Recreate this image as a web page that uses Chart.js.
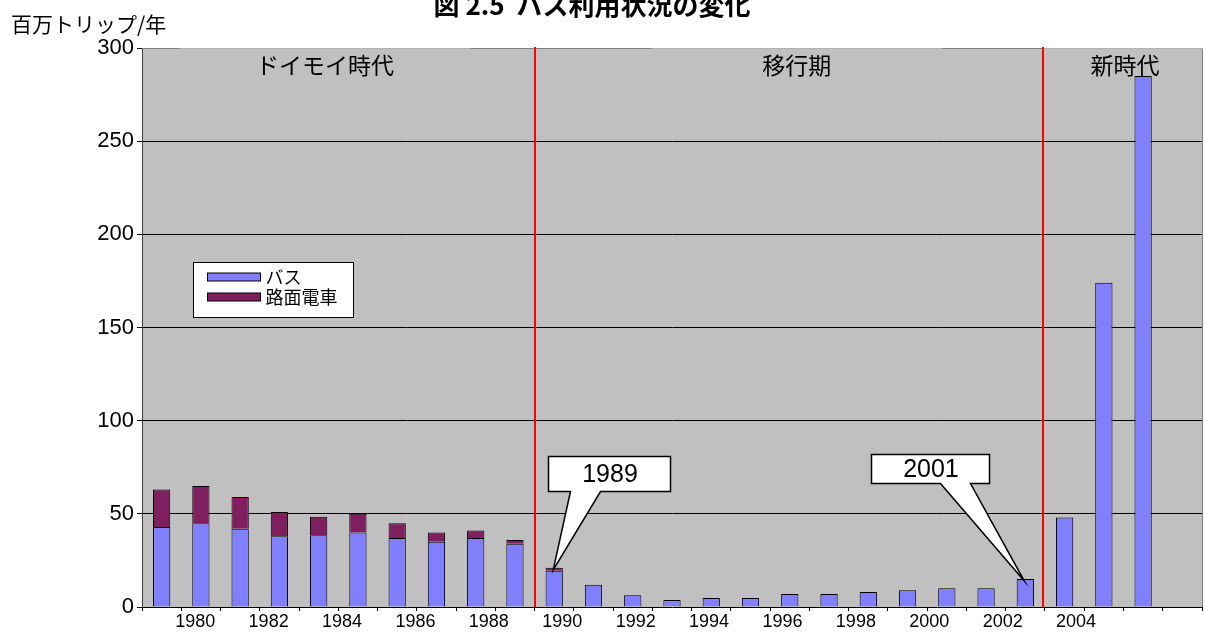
<!DOCTYPE html>
<html lang="ja">
<head>
<meta charset="utf-8">
<title>図 2.5 バス利用状況の変化</title>
<script src="https://cdn.jsdelivr.net/npm/chart.js@4.4.1/dist/chart.umd.min.js"></script>
<style>
  html, body { margin: 0; padding: 0; background: #ffffff; }
  #wrap { width: 1205px; height: 640px; position: relative; }
</style>
</head>
<body>
<div id="wrap"><canvas id="chart"></canvas></div>
<script>
// 年（カテゴリー）
const years = ['1979','1980','1981','1982','1983','1984','1985','1986','1987','1988',
               '1989','1990','1991','1992','1993','1994','1995','1996','1997','1998',
               '1999','2000','2001','2002','2003','2004','2005'];

// バス利用（百万トリップ/年）
const busTrips = [43, 45, 42, 38, 38.5, 40, 37, 35, 37, 34,
                  19.5, 12, 6.3, 3.8, 4.8, 4.8, 7, 7, 8, 9,
                  10, 10, 15, 48, 174, 285, null];

// 路面電車利用（百万トリップ/年）
const tramTrips = [20, 20, 17, 13, 10, 10, 8, 5, 4, 2,
                   1.5, null, null, null, null, null, null, null, null, null,
                   null, null, null, null, null, null, null];

// 系列名
const seriesNames = ['バス', '路面電車'];

// 軸目盛
const yTickValues = [0, 50, 100, 150, 200, 250, 300];
const xTickLabels = ['1980','1982','1984','1986','1988','1990','1992',
                     '1994','1996','1998','2000','2002','2004'];

// 時代区分
const eraNames = ['ドイモイ時代', '移行期', '新時代'];

// 吹き出しで示す年
const calloutYears = ['1989', '2001'];

// 見た目の設定
const STYLE = {
  busColor: '#8080ff',
  tramColor: '#7f1f5f',
  plotBg: '#c0c0c0',
  frame: '#808080',
  frameLight: '#b2b2b2',
  eraLine: '#ff0000',
  eraBreakAt: [9.5, 22.45],          // 区切り線の位置（カテゴリー番号）
  eraLabelAt: [4.16, 16.18, 24.54],  // 時代名の中心（カテゴリー番号）
  eraBoxWidth: [291, 291, 166],
  labelAxisMin: 1978.55,
  labelAxisMax: 2007.43,
  callouts: [
    { boxX: 11.395, boxY: 71.6, w: 122, h: 35, baseL: 22, baseR: 52 },
    { boxX: 19.57,  boxY: 74.3, w: 118, h: 29, baseL: 69, baseR: 99 }
  ],
  legend: { x: 193.5, y: 262.5, w: 160, h: 55 },
  cjk: "'Noto Sans CJK JP', 'Noto Sans', sans-serif",
  latin: "'Liberation Sans', Arial, sans-serif"
};

// 背景・枠・時代区分・吹き出し・凡例・タイトル
const decorPlugin = {
  id: 'decor',
  beforeDraw(chart) {
    const { ctx, chartArea: a } = chart;
    ctx.save();
    ctx.fillStyle = STYLE.plotBg;
    ctx.fillRect(a.left, a.top, a.right - a.left, a.bottom - a.top);
    ctx.restore();
  },
  beforeDatasetsDraw(chart) {
    const { ctx, chartArea: a, scales } = chart;
    ctx.save();
    ctx.lineWidth = 1;
    ctx.strokeStyle = STYLE.frame;
    ctx.beginPath();
    ctx.moveTo(a.left, a.top + 0.5);
    ctx.lineTo(a.right + 0.5, a.top + 0.5);
    ctx.lineTo(a.right + 0.5, a.bottom);
    ctx.stroke();
    // 時代名の枠が上辺に重なる部分
    ctx.strokeStyle = STYLE.frameLight;
    eraNames.forEach((n, i) => {
      const cx = scales.x.getPixelForValue(STYLE.eraLabelAt[i]);
      const half = STYLE.eraBoxWidth[i] / 2;
      const x0 = Math.max(a.left + 1, cx - half);
      const x1 = Math.min(a.right + 1, cx + half);
      ctx.beginPath();
      ctx.moveTo(x0, a.top + 0.5);
      ctx.lineTo(x1, a.top + 0.5);
      ctx.stroke();
    });
    ctx.restore();
  },
  afterDatasetsDraw(chart) {
    const { ctx, chartArea: a, scales } = chart;
    const xs = scales.x, ys = scales.y;
    ctx.save();

    // 時代の区切り線
    ctx.strokeStyle = STYLE.eraLine;
    ctx.lineWidth = 2;
    STYLE.eraBreakAt.forEach(v => {
      const px = Math.round(xs.getPixelForValue(v));
      ctx.beginPath();
      ctx.moveTo(px, a.top - 1);
      ctx.lineTo(px, a.bottom);
      ctx.stroke();
    });

    // 時代名
    ctx.fillStyle = '#000';
    ctx.font = '23px ' + STYLE.cjk;
    ctx.textAlign = 'center';
    ctx.textBaseline = 'middle';
    eraNames.forEach((n, i) => {
      ctx.fillText(n, xs.getPixelForValue(STYLE.eraLabelAt[i]), a.top + 17);
    });

    // 吹き出し
    calloutYears.forEach((yr, i) => {
      const c = STYLE.callouts[i];
      const idx = years.indexOf(yr);
      const total = (busTrips[idx] || 0) + (tramTrips[idx] || 0);
      const tx = xs.getPixelForValue(idx) - 1;
      const ty = ys.getPixelForValue(total) + 2;
      const cx = xs.getPixelForValue(c.boxX);
      const cy = ys.getPixelForValue(c.boxY);
      const x = Math.round(cx - c.w / 2) + 0.5;
      const y = Math.round(cy - c.h / 2) + 0.5;
      ctx.beginPath();
      ctx.moveTo(x, y);
      ctx.lineTo(x + c.w, y);
      ctx.lineTo(x + c.w, y + c.h);
      ctx.lineTo(x + c.baseR, y + c.h);
      ctx.lineTo(tx, ty);
      ctx.lineTo(x + c.baseL, y + c.h);
      ctx.lineTo(x, y + c.h);
      ctx.closePath();
      ctx.fillStyle = '#ffffff';
      ctx.fill();
      ctx.strokeStyle = '#000';
      ctx.lineWidth = 1.5;
      ctx.stroke();
      ctx.fillStyle = '#000';
      ctx.font = '25px ' + STYLE.latin;
      ctx.textAlign = 'center';
      ctx.textBaseline = 'middle';
      ctx.fillText(yr, cx + 1, cy + 2);
    });

    // 凡例
    const L = STYLE.legend;
    ctx.fillStyle = '#ffffff';
    ctx.fillRect(L.x, L.y, L.w, L.h);
    ctx.strokeStyle = '#000';
    ctx.lineWidth = 1;
    ctx.strokeRect(L.x, L.y, L.w, L.h);
    ctx.font = '18px ' + STYLE.cjk;
    ctx.textAlign = 'left';
    ctx.textBaseline = 'middle';
    chart.data.datasets.forEach((ds, i) => {
      const sy = L.y + 10.5 + i * 20;
      ctx.fillStyle = ds.backgroundColor;
      ctx.fillRect(L.x + 14, sy, 53, 8);
      ctx.strokeStyle = '#000';
      ctx.strokeRect(L.x + 14, sy, 53, 8);
      ctx.fillStyle = '#000';
      ctx.fillText(ds.label, L.x + 72, sy + 4);
    });

    // タイトルと縦軸の単位
    ctx.fillStyle = '#000';
    ctx.font = 'bold 26px ' + STYLE.cjk;
    ctx.textAlign = 'center';
    ctx.textBaseline = 'alphabetic';
    ctx.fillText('図 2.5  バス利用状況の変化', 592, 15);
    ctx.font = '21px ' + STYLE.cjk;
    ctx.textAlign = 'left';
    ctx.textBaseline = 'middle';
    ctx.fillText('百万トリップ/年', 11, 24);

    ctx.restore();
  }
};

new Chart(document.getElementById('chart'), {
  type: 'bar',
  data: {
    labels: years,
    datasets: [
      {
        label: seriesNames[0],
        data: busTrips,
        backgroundColor: STYLE.busColor,
        borderColor: '#000',
        borderWidth: 1,
        barPercentage: 0.44,
        categoryPercentage: 1.0,
        xAxisID: 'x',
        yAxisID: 'y'
      },
      {
        label: seriesNames[1],
        data: tramTrips,
        backgroundColor: STYLE.tramColor,
        borderColor: '#000',
        borderWidth: 1,
        barPercentage: 0.44,
        categoryPercentage: 1.0,
        xAxisID: 'x',
        yAxisID: 'y'
      }
    ]
  },
  options: {
    responsive: true,
    maintainAspectRatio: false,
    devicePixelRatio: 1,
    animation: false,
    events: [],
    layout: { padding: { top: 48, right: 3, left: 0, bottom: 0 } },
    plugins: {
      legend: { display: false },
      tooltip: { enabled: false },
      title: { display: false }
    },
    scales: {
      x: {
        type: 'category',
        stacked: true,
        offset: true,
        weight: 0,
        ticks: { display: false },
        grid: { offset: true, drawOnChartArea: false, color: '#000', tickColor: '#000', tickLength: 4 },
        border: { color: '#000', width: 1 },
        afterFit: s => { s.height = 4; }
      },
      xLabels: {
        type: 'linear',
        position: 'bottom',
        weight: 1,
        offset: false,
        min: STYLE.labelAxisMin,
        max: STYLE.labelAxisMax,
        afterBuildTicks: s => { s.ticks = xTickLabels.map(t => ({ value: Number(t) })); },
        ticks: {
          autoSkip: false,
          maxRotation: 0,
          minRotation: 0,
          padding: 0,
          color: '#000',
          font: { family: STYLE.latin, size: 18 },
          callback: v => String(v)
        },
        grid: { display: false, drawTicks: false, offset: false },
        border: { display: false },
        afterFit: s => { s.height = 29; }
      },
      y: {
        stacked: true,
        min: 0,
        max: 300,
        afterBuildTicks: s => { s.ticks = yTickValues.map(v => ({ value: v })); },
        ticks: {
          color: '#000',
          padding: 3,
          font: { family: STYLE.latin, size: 22 }
        },
        grid: {
          color: c => (c.tick && (c.tick.value === 0 || c.tick.value === 300)) ? 'rgba(0,0,0,0)' : '#000',
          tickColor: '#000',
          tickLength: 5,
          lineWidth: 1
        },
        border: { color: '#404040', width: 1 },
        afterFit: s => { s.width = 142; }
      }
    }
  },
  plugins: [decorPlugin]
});
</script>
</body>
</html>
